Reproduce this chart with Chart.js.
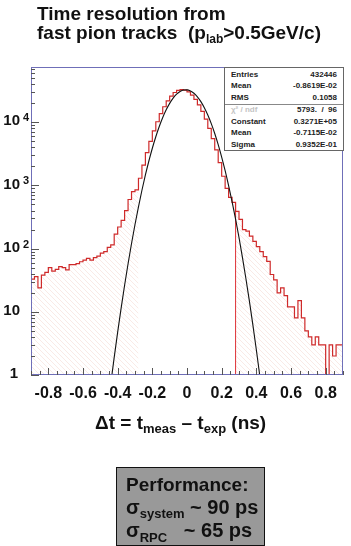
<!DOCTYPE html>
<html>
<head>
<meta charset="utf-8">
<script src="https://cdn.jsdelivr.net/npm/chart.js@4.4.1/dist/chart.umd.min.js"></script>
<style>
  html, body { margin: 0; padding: 0; background: #fff; }
  body { width: 351px; height: 546px; position: relative; overflow: hidden;
         font-family: "Liberation Sans", Arial, sans-serif; }
  #chart { position: absolute; left: 0; top: 0; }
  .txt { position: absolute; white-space: nowrap; font-weight: bold; color: #111; line-height: 1; }
  .sub { position: relative; }
  #stats { position: absolute; left: 224px; top: 67px; width: 118px; height: 82px;
           background: #fff; border: 1px solid #666; font-size: 8px; font-weight: bold; color: #222; }
  #stats .row { position: absolute; left: 6px; right: 6px; height: 11.7px; line-height: 11.7px;
                display: flex; justify-content: space-between; }
  #stats .sep { position: absolute; left: 0; right: 0; top: 35.5px; border-top: 1px solid #888; }
  #perf { position: absolute; left: 116px; top: 467px; width: 147px; height: 77px;
          background: #999; border: 1.5px solid #111; }
</style>
</head>
<body>
<canvas id="chart" width="351" height="546"></canvas>

<div class="txt" style="left:37px; top:4px; font-size:19px;">Time resolution from</div>
<div class="txt" style="left:37px; top:22.5px; font-size:19px;">fast pion tracks&nbsp; (p<span class="sub" style="font-size:12px; top:4px;">lab</span>&gt;0.5GeV/c)</div>

<div id="stats"></div>

<div class="txt" style="left:95px; top:413px; font-size:19px;">&Delta;t = t<span class="sub" style="font-size:13px; top:4px;">meas</span> &ndash; t<span class="sub" style="font-size:13px; top:4px;">exp</span> (ns)</div>

<div id="perf"></div>
<div class="txt" style="left:126px; top:475px; font-size:19px;">Performance:</div>
<div class="txt" style="left:126px; top:497px; font-size:20px;">&sigma;<span class="sub" style="font-size:13px; top:4px;">system</span> ~ 90 ps</div>
<div class="txt" style="left:126px; top:520px; font-size:20px;">&sigma;<span class="sub" style="font-size:13px; top:5px;">RPC</span>&nbsp;&nbsp; ~ 65 ps</div>

<script>
// histogram binning (dt in ns)
const binStart = -0.9;
const binWidth = 0.02;
// counts per bin
const counts = [
  24, 33, 36, 24, 38, 42, 50, 44, 47, 52,
  50, 46, 56, 56, 58, 62, 66, 70, 66, 72,
  76, 85, 90, 105, 115, 170, 220, 280, 400, 600,
  800, 850, 1300, 2100, 3300, 5000, 7300, 10200, 13700, 17600,
  21800, 25900, 29600, 32100, 33000, 32400, 30300, 27000, 23000, 18900,
  14900, 11200, 8000, 5500, 3650, 2300, 1400, 900, 650, 540,
  390, 290, 200, 190, 158, 130, 108, 90, 75, 63,
  39, 32, 20, 24, 18, 12, 12, 8, 15, 8,
  5, 4, 3, 4, 3, 3, 1, 3, 2, 3
];
// gaussian fit curve, sampled
const fitX = [-0.44, -0.42, -0.40, -0.38, -0.36, -0.34, -0.32, -0.30, -0.28, -0.26,
  -0.24, -0.22, -0.20, -0.18, -0.16, -0.14, -0.12, -0.10, -0.08, -0.06,
  -0.04, -0.02, 0.00, 0.02, 0.04, 0.06, 0.08, 0.10, 0.12, 0.14,
  0.16, 0.18, 0.20, 0.22, 0.24, 0.26, 0.28, 0.30, 0.32, 0.34,
  0.36, 0.38, 0.40, 0.42, 0.44];
const fitY = [0.72, 1.9, 4.77, 11.45, 26.3, 57.6, 120.5, 241, 460, 840,
  1466, 2440, 3885, 5905, 8570, 11900, 15760, 19930, 24120, 27860,
  30740, 32400, 32620, 31370, 28830, 25330, 21250, 17020, 13020, 9510,
  6640, 4427, 2820, 1717, 998, 555, 295, 150, 72, 33.4,
  14.8, 6.22, 2.51, 0.97, 0.35];
const fitLo = -0.28;
const fitHi = 0.28;

const xTicks = [-0.8, -0.6, -0.4, -0.2, 0, 0.2, 0.4, 0.6, 0.8];
const yTicks = [1, 10, 100, 1000, 10000];

const statsTop = [['Entries', '432446'], ['Mean', '-0.8619E-02'], ['RMS', '0.1058']];
const statsFit = [['\u03C7\u00B2 / ndf', '5793.  /  96'], ['Constant', '0.3271E+05'],
  ['Mean', '-0.7115E-02'], ['Sigma', '0.9352E-01']];

// stats box
const stats = document.getElementById('stats');
statsTop.concat(statsFit).forEach((r, i) => {
  const row = document.createElement('div');
  row.className = 'row';
  row.style.top = (i < 3 ? 0.5 + i * 11.7 : 36 + (i - 3) * 11.7) + 'px';
  const lab = i === 3 ? `<span style="color:#c4c4c4">${r[0]}</span>` : `<span>${r[0]}</span>`;
  row.innerHTML = `${lab}<span style="white-space:pre">${r[1]}</span>`;
  stats.appendChild(row);
});
const sep = document.createElement('div');
sep.className = 'sep';
stats.appendChild(sep);

// build step points
const edges = counts.map((c, i) => binStart + i * binWidth);
const histEnd = binStart + counts.length * binWidth;
const histPts = [{x: binStart, y: 1}];
counts.forEach((c, i) => histPts.push({x: edges[i], y: c}));
histPts.push({x: histEnd, y: counts[counts.length - 1]});
histPts.push({x: histEnd, y: 1});

const leftPts = [], rightPts = [];
counts.forEach((c, i) => {
  if (edges[i] < fitLo - 1e-9) leftPts.push({x: edges[i], y: c});
  if (edges[i] >= fitHi - 1e-9) rightPts.push({x: edges[i], y: c});
});
leftPts.push({x: fitLo, y: leftPts[leftPts.length - 1].y});
rightPts.push({x: histEnd, y: counts[counts.length - 1]});

const fitPts = fitX.map((x, i) => ({x: x, y: fitY[i]}));

// faint diagonal hatch
function hatch() {
  const c = document.createElement('canvas');
  c.width = 5; c.height = 5;
  const g = c.getContext('2d');
  g.strokeStyle = '#f8e4e0';
  g.lineWidth = 0.8;
  g.beginPath();
  g.moveTo(0, 0); g.lineTo(5, 5);
  g.moveTo(-1, 4); g.lineTo(1, 6);
  g.moveTo(4, -1); g.lineTo(6, 1);
  g.stroke();
  return g.createPattern(c, 'repeat');
}
const pat = hatch();

const rootAxes = {
  id: 'rootAxes',
  afterDatasetsDraw(chart) {
    const {ctx, chartArea: a, scales: {x, y}} = chart;
    ctx.save();
    ctx.strokeStyle = '#6f6fb8';
    ctx.lineWidth = 1;
    ctx.strokeRect(a.left + 0.5, a.top + 0.5, a.right - a.left - 1, a.bottom - a.top - 1);
    ctx.strokeStyle = '#555';
    ctx.beginPath();
    for (let k = -18; k <= 18; k++) {
      const px = Math.round(x.getPixelForValue(k * 0.05)) + 0.5;
      const len = k % 4 === 0 ? 7 : 4;
      ctx.moveTo(px, a.bottom);
      ctx.lineTo(px, a.bottom - len);
    }
    for (let d = 0; d <= 4; d++) {
      for (let m = 1; m <= 9; m++) {
        const v = m * Math.pow(10, d);
        if (v > y.max) break;
        const py = Math.round(y.getPixelForValue(v)) + 0.5;
        ctx.moveTo(a.left, py);
        ctx.lineTo(a.left + (m === 1 ? 8 : 4), py);
      }
    }
    ctx.stroke();
    ctx.restore();
  },
  afterDraw(chart) {
    const {ctx, scales: {y}} = chart;
    ctx.save();
    ctx.fillStyle = '#111';
    ctx.textBaseline = 'middle';
    y.ticks.forEach(t => {
      const py = y.getPixelForValue(t.value) - 1;
      const e = Math.round(Math.log10(t.value));
      ctx.font = 'bold 15px "Liberation Sans", Arial';
      ctx.textAlign = 'right';
      if (e === 0) {
        ctx.fillText('1', 18, py);
      } else {
        ctx.fillText('10', 20, py);
        if (e > 1) {
          ctx.font = 'bold 11px "Liberation Sans", Arial';
          ctx.textAlign = 'left';
          ctx.fillText(String(e), 23, py - 3);
        }
      }
    });
    ctx.restore();
  }
};

new Chart(document.getElementById('chart'), {
  type: 'line',
  data: {
    datasets: [
      { data: fitPts, borderColor: '#111', borderWidth: 1.1, pointRadius: 0,
        cubicInterpolationMode: 'monotone', order: 0 },
      { data: histPts, stepped: 'after', borderColor: '#cf2a2a', borderWidth: 1.2,
        pointRadius: 0, order: 1 },
      { data: [{x: fitHi, y: 1}, {x: fitHi, y: counts[59]}], borderColor: '#e04044',
        borderWidth: 1.1, pointRadius: 0, order: 1 },
      { data: leftPts, stepped: 'after', borderWidth: 0, pointRadius: 0,
        backgroundColor: pat, fill: 'start', order: 2 },
      { data: rightPts, stepped: 'after', borderWidth: 0, pointRadius: 0,
        backgroundColor: pat, fill: 'start', order: 2 }
    ]
  },
  options: {
    responsive: false,
    animation: false,
    devicePixelRatio: 1,
    layout: { padding: { top: 67, right: 8, bottom: 141, left: 0 } },
    plugins: { legend: { display: false }, tooltip: { enabled: false } },
    scales: {
      x: {
        type: 'linear', min: -0.9, max: 0.9,
        grid: { display: false, drawTicks: false },
        border: { display: false },
        afterFit: s => { s.height = 30; },
        afterBuildTicks: s => { s.ticks = xTicks.map(v => ({value: v})); },
        ticks: {
          padding: 9, color: '#111', maxRotation: 0, autoSkip: false,
          font: { family: '"Liberation Sans", Arial', size: 16, weight: 'bold' },
          callback: v => v === 0 ? '0' : v.toFixed(1)
        }
      },
      y: {
        type: 'logarithmic', min: 1, max: 75000,
        grid: { display: false },
        border: { display: false },
        afterFit: s => { s.width = 31; },
        afterBuildTicks: s => { s.ticks = yTicks.map(v => ({value: v})); },
        ticks: { display: false }
      }
    }
  },
  plugins: [rootAxes]
});
</script>
</body>
</html>
